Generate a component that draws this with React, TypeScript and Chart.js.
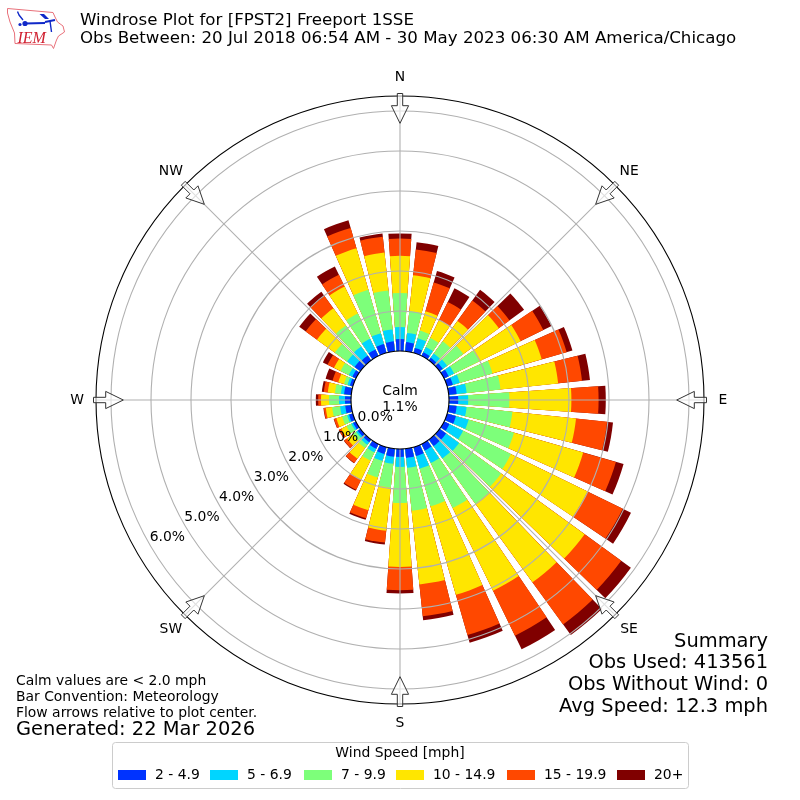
import React, { useEffect, useRef } from "react";
import { Chart, registerables } from "chart.js";

Chart.register(...registerables);

const directions = [0, 10, 20, 30, 40, 50, 60, 70, 80, 90, 100, 110, 120, 130, 140, 150, 160, 170, 180, 190, 200, 210, 220, 230, 240, 250, 260, 270, 280, 290, 300, 310, 320, 330, 340, 350];
const speedLabels = ["2 - 4.9", "5 - 6.9", "7 - 9.9", "10 - 14.9", "15 - 19.9", "20+"];
const speedColors = ["#0033ff", "#00d5ff", "#7dff7a", "#ffe600", "#ff4800", "#800000"];

const speed2to5 = [.30, .23, .13, .10, .08, .10, .13, .15, .20, .23, .20, .23, .15, .20, .20, .18, .23, .23, .20, .20, .18, .13, .08, .08, .08, .10, .15, .15, .18, .08, .10, .18, .15, .18, .23, .25];
const speed5to7 = [.30, .23, .25, .15, .13, .13, .15, .18, .25, .25, .25, .33, .38, .40, .38, .35, .33, .25, .25, .18, .18, .10, .08, .05, .05, .05, .13, .15, .08, .06, .10, .23, .28, .30, .28, .30];
const speed7to10 = [.85, .55, .20, .25, .38, .50, .70, .85, .85, 1.03, 1.15, 1.18, 1.33, 1.30, 1.40, 1.25, .98, 1.08, .90, .60, .43, .23, .10, .10, .13, .13, .20, .25, .15, .09, .23, .38, .65, .70, 1.13, .98];
const speed10to15 = [.93, .90, .50, .50, .63, 1.10, 1.15, 1.28, 1.45, 1.55, 1.60, 1.80, 2.13, 2.58, 2.43, 2.30, 2.30, 1.85, 1.60, 1.08, .85, .53, .33, .18, .15, .15, .16, .20, .18, .15, .18, .55, .53, .75, 1.08, .95];
const speed15to20 = [.43, .65, .75, .50, .63, .33, .63, .65, .60, .68, .78, .85, .98, 1.13, 1.30, 1.25, 1.05, .80, .58, .30, .21, .28, .13, .09, .06, .06, .05, .07, .10, .15, .18, .35, .38, .33, .53, .40];
const speed20plus = [.13, .18, .30, .38, .33, .45, .23, .15, .20, .18, .15, .20, .23, .30, .33, .38, .20, .10, .08, .05, .04, .03, .01, .01, .01, .01, .01, .06, .05, .18, .13, .20, .13, .23, .20, .08];

const speedSeries = [speed2to5, speed5to7, speed7to10, speed10to15, speed15to20, speed20plus];
const radialTicks = [0, 1, 2, 3, 4, 5, 6];
const compass: [string, number][] = [["N", 0], ["NE", 45], ["E", 90], ["SE", 135], ["S", 180], ["SW", 225], ["W", 270], ["NW", 315]];
const titleLines = ["Windrose Plot for [FPST2] Freeport 1SSE", "Obs Between: 20 Jul 2018 06:54 AM - 30 May 2023 06:30 AM America/Chicago"];
const notes = ["Calm values are < 2.0 mph", "Bar Convention: Meteorology", "Flow arrows relative to plot center."];
const summary = ["Summary", "Obs Used: 413561", "Obs Without Wind: 0", "Avg Speed: 12.3 mph"];

const R_MIN = -1.225;
const R_MAX = 6.375;
const BAR_DEG = 8;
const GAP_DEG = 2;
const FONT = '"DejaVu Sans"';

const labels = directions.flatMap((d) => [String(d), ""]);
const angles = directions.flatMap(() => [BAR_DEG, GAP_DEG]);

function stacked(level: number) {
  return directions.flatMap((_, i) => {
    let sum = 0;
    for (let k = 0; k <= level; k++) sum += speedSeries[k][i];
    return [sum, R_MIN];
  });
}

const polar = (cx: number, cy: number, r: number, deg: number): [number, number] => {
  const a = (deg * Math.PI) / 180;
  return [cx + r * Math.sin(a), cy - r * Math.cos(a)];
};

const underGrid = {
  id: "underGrid",
  afterDatasetsDraw(chart: any) {
    const s = chart.scales.r;
    const ctx = chart.ctx;
    const r0 = s.getDistanceFromCenterForValue(0);
    const r1 = s.getDistanceFromCenterForValue(R_MAX);
    ctx.save();
    ctx.fillStyle = "#fff";
    ctx.beginPath();
    ctx.arc(s.xCenter, s.yCenter, r0, 0, Math.PI * 2);
    ctx.fill();
    ctx.strokeStyle = "#b0b0b0";
    ctx.lineWidth = 1.1;
    for (const [, deg] of compass) {
      const [x0, y0] = polar(s.xCenter, s.yCenter, r0, deg);
      const [x1, y1] = polar(s.xCenter, s.yCenter, r1, deg);
      ctx.beginPath();
      ctx.moveTo(x0, y0);
      ctx.lineTo(x1, y1);
      ctx.stroke();
    }
    ctx.restore();
  },
};

function drawLogo(ctx: CanvasRenderingContext2D) {
  ctx.save();
  ctx.strokeStyle = "#e8707a";
  ctx.lineWidth = 1;
  ctx.lineJoin = "round";
  ctx.beginPath();
  const outline = [[7.5, 8.5], [53, 12.5], [55, 17], [57.5, 22], [63, 26], [64.5, 32], [58.5, 36], [56.5, 40], [53.5, 48.5], [51.5, 45], [15, 43.5], [14.5, 33], [10, 22], [7.5, 13]];
  outline.forEach(([x, y], i) => (i ? ctx.lineTo(x, y) : ctx.moveTo(x, y)));
  ctx.closePath();
  ctx.stroke();
  ctx.strokeStyle = "#1028c8";
  ctx.fillStyle = "#1028c8";
  ctx.lineWidth = 2;
  ctx.beginPath();
  ctx.moveTo(25, 23.5);
  ctx.lineTo(45, 23);
  ctx.moveTo(45, 22);
  ctx.lineTo(55, 20);
  ctx.stroke();
  ctx.lineWidth = 1.4;
  ctx.beginPath();
  ctx.moveTo(17.5, 11.5);
  ctx.lineTo(19, 15);
  ctx.lineTo(23, 20);
  ctx.moveTo(50, 21);
  ctx.lineTo(51.5, 32);
  ctx.stroke();
  ctx.beginPath();
  ctx.moveTo(39.5, 14);
  ctx.lineTo(44, 14);
  ctx.lineTo(49, 19);
  ctx.lineTo(45, 19);
  ctx.closePath();
  ctx.fill();
  ctx.beginPath();
  ctx.arc(25, 23.5, 2.6, 0, Math.PI * 2);
  ctx.fill();
  ctx.beginPath();
  ctx.arc(20, 24.5, 1.6, 0, Math.PI * 2);
  ctx.fill();
  ctx.fillStyle = "#d02030";
  ctx.font = 'italic 16px "Liberation Serif"';
  ctx.textAlign = "left";
  ctx.textBaseline = "alphabetic";
  ctx.fillText("IEM", 17.5, 43);
  ctx.restore();
}

const overlay = {
  id: "overlay",
  afterDraw(chart: any) {
    const s = chart.scales.r;
    const ctx: CanvasRenderingContext2D = chart.ctx;
    const cx = s.xCenter;
    const cy = s.yCenter;
    ctx.save();

    // flow arrows
    for (const [, deg] of compass) {
      const tail = 306.5;
      const neck = 294.3;
      const tip = 276.7;
      const pts: [number, number][] = [[tail, -2.7], [neck, -2.7], [neck, -8.6], [tip, 0], [neck, 8.6], [neck, 2.7], [tail, 2.7]];
      const a = (deg * Math.PI) / 180;
      ctx.beginPath();
      pts.forEach(([r, w], i) => {
        const x = cx + r * Math.sin(a) + w * Math.cos(a);
        const y = cy - r * Math.cos(a) + w * Math.sin(a);
        if (i) ctx.lineTo(x, y);
        else ctx.moveTo(x, y);
      });
      ctx.closePath();
      ctx.fillStyle = "rgba(255,255,255,0.6)";
      ctx.fill();
      ctx.strokeStyle = "#333";
      ctx.lineWidth = 1;
      ctx.stroke();
    }

    ctx.fillStyle = "#000";
    ctx.font = `13.9px ${FONT}`;
    ctx.textBaseline = "middle";
    ctx.textAlign = "center";
    for (const [name, deg] of compass) {
      const radius = deg % 90 === 0 ? 323 : 324;
      const [x, y] = polar(cx, cy, radius, deg);
      ctx.fillText(name, x, y);
    }
    ctx.fillText("Calm", cx, 391);
    ctx.fillText("1.1%", cx, 407);

    // radial tick labels
    ctx.textAlign = "left";
    ctx.textBaseline = "bottom";
    for (const t of radialTicks) {
      const [x, y] = polar(cx, cy, s.getDistanceFromCenterForValue(t), 240);
      ctx.fillText(`${t.toFixed(1)}%`, x, y);
    }

    // titles
    ctx.textBaseline = "middle";
    ctx.font = `16.67px ${FONT}`;
    titleLines.forEach((t, i) => ctx.fillText(t, 80, 20.5 + i * 18));
    ctx.font = `13.9px ${FONT}`;
    notes.forEach((t, i) => ctx.fillText(t, 16, 681 + i * 16));
    ctx.font = `19.44px ${FONT}`;
    ctx.fillText("Generated: 22 Mar 2026", 16, 730);
    ctx.textAlign = "right";
    summary.forEach((t, i) => ctx.fillText(t, 768, 641.5 + i * 21.7));

    // legend
    ctx.textAlign = "left";
    ctx.strokeStyle = "#cccccc";
    ctx.fillStyle = "#fff";
    ctx.lineWidth = 1;
    ctx.beginPath();
    ctx.roundRect(112.5, 742.5, 576, 46, 3);
    ctx.fill();
    ctx.stroke();
    ctx.fillStyle = "#000";
    ctx.font = `13.9px ${FONT}`;
    ctx.textAlign = "center";
    ctx.fillText("Wind Speed [mph]", 400, 753);
    ctx.textAlign = "left";
    const swatchX = [118, 210, 304, 396, 507, 617];
    speedLabels.forEach((t, i) => {
      ctx.fillStyle = speedColors[i];
      ctx.fillRect(swatchX[i], 770, 28, 10);
      ctx.fillStyle = "#000";
      ctx.fillText(t, swatchX[i] + 37, 775);
    });

    ctx.restore();
    drawLogo(ctx);
  },
};

export default function App() {
  const ref = useRef<HTMLCanvasElement>(null);
  useEffect(() => {
    const chart = new Chart(ref.current!, {
      type: "polarArea",
      data: {
        labels,
        datasets: speedSeries.map((_, level) => ({
          label: speedLabels[level],
          data: stacked(level),
          angle: angles,
          backgroundColor: directions.flatMap(() => [speedColors[level], "rgba(0,0,0,0)"]),
          borderWidth: 0,
        })),
      } as any,
      plugins: [underGrid, overlay],
      options: {
        responsive: false,
        animation: false,
        devicePixelRatio: 1,
        layout: { padding: 96 },
        plugins: { legend: { display: false }, tooltip: { enabled: false }, title: { display: false } },
        scales: {
          r: {
            type: "radialLinear",
            min: R_MIN,
            max: R_MAX,
            startAngle: -BAR_DEG / 2,
            afterBuildTicks(axis: any) {
              axis.ticks = [...radialTicks, R_MAX].map((value) => ({ value }));
            },
            ticks: { display: false },
            pointLabels: { display: false },
            angleLines: { display: false },
            grid: {
              circular: true,
              z: 1,
              lineWidth: 1.1,
              color: (c: any) => (c.tick && (c.tick.value === 0 || c.tick.value === R_MAX) ? "#000000" : "#b0b0b0"),
            },
          },
        },
      } as any,
    });
    return () => chart.destroy();
  }, []);
  return (
    <div style={{ position: "absolute", left: 0, top: 0, width: 800, height: 800 }}>
      <canvas ref={ref} width={800} height={800} style={{ display: "block" }} />
    </div>
  );
}
